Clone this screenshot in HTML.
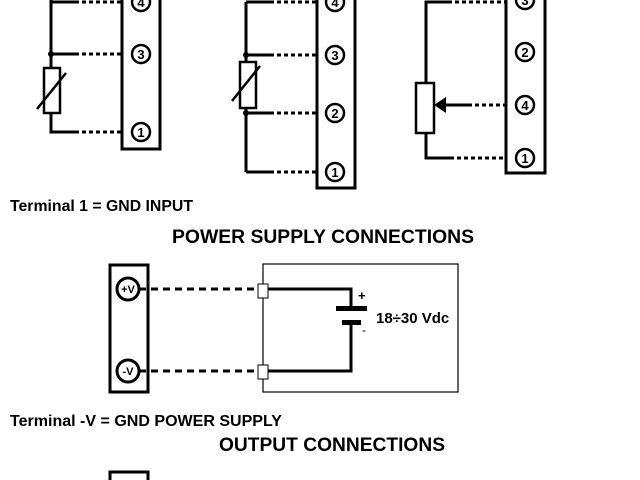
<!DOCTYPE html>
<html><head><style>body{margin:0;background:#fff}svg{display:block}</style></head><body>
<svg width="640" height="480" xmlns="http://www.w3.org/2000/svg" font-family="Liberation Sans, sans-serif" font-weight="bold">
<g fill="none" stroke="#000">
<rect x="122" y="-10" width="38" height="159" stroke-width="3"/>
<circle cx="141" cy="2" r="9" stroke-width="2.5"/><circle cx="141" cy="54" r="9" stroke-width="2.5"/><circle cx="141" cy="132" r="9" stroke-width="2.5"/>
<path d="M51 -5V68M51 113V132H75M51 2H75M51 54H75" stroke-width="3"/>
<rect x="44" y="68" width="16" height="45" stroke-width="2.5"/>
<path d="M37 109L66 73" stroke-width="2.5"/>
<path d="M75 2H122M75 54H122M75 132H122" stroke-width="3" stroke-dasharray="4,3"/>
<rect x="317" y="-10" width="38" height="198" stroke-width="3"/>
<circle cx="335" cy="2" r="9" stroke-width="2.5"/><circle cx="335" cy="55" r="9" stroke-width="2.5"/><circle cx="335" cy="113" r="9" stroke-width="2.5"/><circle cx="335" cy="172" r="9" stroke-width="2.5"/>
<path d="M246 2V62M246 108V172M246 2H270M246 55H270M246 113H270M246 172H270" stroke-width="3"/>
<rect x="240" y="62" width="16" height="46" stroke-width="2.5"/>
<path d="M232 101L260 66" stroke-width="2.5"/>
<path d="M270 2H317M270 55H317M270 113H317M270 172H317" stroke-width="3" stroke-dasharray="4,3"/>
<rect x="506" y="-10" width="39" height="183" stroke-width="3"/>
<circle cx="525" cy="0" r="9" stroke-width="2.5"/><circle cx="525" cy="52" r="9" stroke-width="2.5"/><circle cx="525" cy="105" r="9" stroke-width="2.5"/><circle cx="525" cy="158" r="9" stroke-width="2.5"/>
<path d="M426 83V2H448M426 133V158H450M445 105H468" stroke-width="3"/>
<rect x="416" y="83" width="18" height="50" stroke-width="2.5"/>
<path d="M448 2H506M450 158H506M468 105H506" stroke-width="3" stroke-dasharray="4,3"/>
<rect x="110" y="265" width="38" height="127" stroke-width="3"/>
<circle cx="128" cy="289" r="11" stroke-width="3"/><circle cx="128" cy="371" r="11" stroke-width="3"/>
<path d="M139 289H258M139 371H258" stroke-width="3" stroke-dasharray="7,5"/>
<rect x="263" y="264" width="195" height="128" stroke-width="1.2"/>
<path d="M268 289H351V307M351 325V371H268" stroke-width="3"/>
<rect x="110" y="472" width="38" height="20" stroke-width="3"/>
</g>
<polygon points="434,105 446,97 446,113"/>
<circle cx="51" cy="54" r="3"/><circle cx="246" cy="55" r="3"/><circle cx="246" cy="113" r="3"/>
<rect x="258" y="284" width="10" height="14" fill="#fff" stroke="#000"/>
<rect x="258" y="365" width="10" height="14" fill="#fff" stroke="#000"/>
<rect x="336" y="306" width="31" height="5"/><rect x="342" y="320" width="19" height="5"/>
<g font-size="13" text-anchor="middle">
<text x="141" y="7">4</text><text x="141" y="59">3</text><text x="141" y="137">1</text>
<text x="335" y="7">4</text><text x="335" y="60">3</text><text x="335" y="118">2</text><text x="335" y="177">1</text>
<text x="525" y="5">3</text><text x="525" y="57">2</text><text x="525" y="110">4</text><text x="525" y="163">1</text>
<text x="128" y="293" font-size="11">+V</text><text x="128" y="375" font-size="11">-V</text>
</g>
<text x="358" y="300" font-size="13">+</text><text x="362" y="334" font-size="12" font-weight="normal">-</text>
<text x="376" y="323" font-size="15">18÷30 Vdc</text>
<text x="10" y="211" font-size="15.5" textLength="183" lengthAdjust="spacingAndGlyphs">Terminal 1 = GND INPUT</text>
<text x="172" y="243" font-size="19" textLength="302" lengthAdjust="spacingAndGlyphs">POWER SUPPLY CONNECTIONS</text>
<text x="10" y="426" font-size="15.5" textLength="272" lengthAdjust="spacingAndGlyphs">Terminal -V = GND POWER SUPPLY</text>
<text x="219" y="451" font-size="19" textLength="226" lengthAdjust="spacingAndGlyphs">OUTPUT CONNECTIONS</text>
</svg>
</body></html>
